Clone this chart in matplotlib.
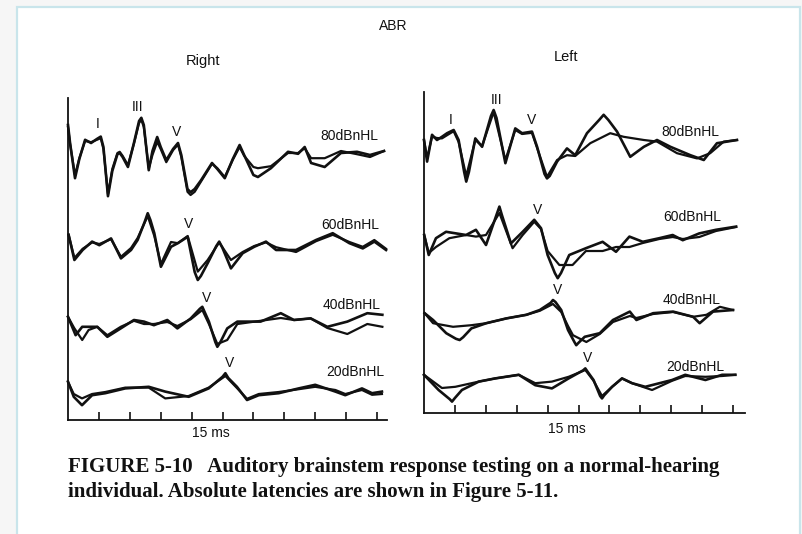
import numpy as np
import matplotlib.pyplot as plt
from matplotlib.patches import Rectangle

# ---- data: vertices, time in ms, amplitude in uV ----
levels = ["80dBnHL", "60dBnHL", "40dBnHL", "20dBnHL"]

# Right ear
r80a_t = [0, 0.1, 0.34, 0.55, 0.83, 1.12, 1.40, 1.59, 1.72, 1.94, 2.15, 2.40, 2.51, 2.65, 2.91, 3.20, 3.45,
          3.56, 3.68, 3.92, 4.10, 4.33, 4.50, 4.77, 5.10, 5.34, 5.50, 5.80, 5.95, 6.15, 6.46, 6.99, 7.25,
          7.61, 8.0, 8.33, 8.55, 9.0, 9.22, 9.85, 10.68, 11.17, 11.49, 11.80, 12.46, 13.25, 14.03, 14.66, 15.34]
r80a_v = [0.75, 0.3, -0.58, -0.1, 0.38, 0.30, 0.40, 0.46, 0.2, -1.03, -0.4, 0.02, 0.05, -0.05, -0.30, 0.3, 0.85,
          0.93, 0.75, -0.38, 0.1, 0.45, 0.2, -0.13, 0.15, 0.30, 0.0, -0.85, -0.93, -0.85, -0.63, -0.20, -0.35,
          -0.58, -0.1, 0.25, 0.0, -0.5, -0.55, -0.33, 0.08, 0.03, 0.20, -0.20, -0.30, 0.05, 0.08, 0.0, 0.10]
r80b_t = r80a_t
r80b_v = [0.7, 0.28, -0.5, -0.08, 0.35, 0.32, 0.38, 0.42, 0.15, -0.98, -0.35, 0.05, 0.08, -0.02, -0.25, 0.28, 0.8,
          0.88, 0.7, -0.33, 0.0, 0.33, 0.15, -0.18, 0.12, 0.26, -0.05, -0.92, -1.0, -0.92, -0.66, -0.22, -0.33,
          -0.55, -0.12, 0.20, -0.02, -0.3, -0.33, -0.28, 0.05, 0.05, 0.17, -0.08, -0.08, 0.10, 0.02, -0.05, 0.10]

r60a_t = [0.03, 0.31, 0.71, 1.17, 1.52, 2.09, 2.57, 3.06, 3.38, 3.72, 3.87, 4.0, 4.19, 4.51, 5.0, 5.33, 5.81,
          6.15, 6.30, 6.45, 6.78, 7.2, 7.34, 7.5, 7.91, 8.48, 9.04, 9.61, 10.10, 11.07, 12.04, 12.85, 13.66,
          14.31, 14.87, 15.44]
r60a_v = [0.13, -0.50, -0.25, -0.04, -0.13, 0.04, -0.46, -0.25, 0.0, 0.45, 0.67, 0.5, 0.17, -0.67, -0.17, -0.08, 0.08,
          -0.8, -1.0, -0.9, -0.58, -0.15, -0.04, -0.2, -0.71, -0.33, -0.17, -0.04, -0.25, -0.25, 0.0, 0.17, -0.08,
          -0.21, -0.04, -0.25]
r60b_t = [0.03, 0.31, 0.71, 1.17, 1.52, 2.09, 2.57, 3.06, 3.38, 3.87, 4.19, 4.51, 5.0, 5.33, 5.81,
          6.30, 6.78, 7.34, 7.91, 8.48, 9.04, 9.61, 10.10, 11.07, 12.04, 12.85, 13.66, 14.31, 14.87, 15.44]
r60b_v = [0.13, -0.45, -0.22, -0.06, -0.10, 0.02, -0.42, -0.20, 0.05, 0.60, 0.10, -0.60, -0.05, -0.08, 0.10,
          -0.79, -0.50, -0.06, -0.50, -0.30, -0.15, -0.06, -0.18, -0.30, -0.03, 0.13, -0.05, -0.17, 0.0, -0.22]

r40a_t = [0, 0.37, 0.69, 1.42, 1.91, 2.56, 3.20, 3.69, 4.17, 4.82, 5.31, 5.96, 6.40, 6.52, 6.84, 7.15, 7.25,
          7.40, 7.73, 8.22, 9.35, 10.33, 10.97, 11.78, 12.59, 13.56, 14.53, 15.26]
r40a_v = [0.08, -0.38, -0.17, -0.17, -0.42, -0.21, 0.0, -0.04, -0.13, 0.0, -0.21, 0.04, 0.28, 0.33, -0.04, -0.55, -0.67,
          -0.55, -0.21, -0.04, -0.04, 0.17, 0.0, 0.04, -0.17, -0.04, 0.17, 0.13]
r40b_t = [0, 0.30, 0.69, 1.0, 1.42, 1.91, 2.56, 3.20, 3.69, 4.17, 4.82, 5.31, 5.96, 6.52, 6.84,
          7.25, 7.73, 8.22, 9.35, 10.33, 10.97, 11.78, 12.59, 13.56, 14.53, 15.26]
r40b_v = [0.08, -0.20, -0.50, -0.25, -0.17, -0.38, -0.17, -0.02, -0.10, -0.10, -0.05, -0.15, 0.02, 0.25, -0.10,
          -0.60, -0.50, -0.10, -0.02, 0.05, 0.0, 0.04, -0.20, -0.35, -0.10, -0.17]

r20a_t = [0, 0.28, 0.68, 1.17, 1.81, 2.78, 3.92, 4.72, 5.86, 6.83, 7.50, 7.64, 7.78, 8.20, 8.69, 9.26, 10.23,
          11.20, 12.0, 12.98, 13.46, 14.27, 14.76, 15.24]
r20a_v = [0.21, -0.17, -0.38, -0.13, -0.08, 0.04, 0.08, -0.04, -0.17, 0.04, 0.33, 0.42, 0.3, 0.08, -0.25, -0.13, -0.08,
          0.04, 0.13, -0.04, -0.13, 0.04, -0.08, -0.04]
r20b_t = [0, 0.28, 0.68, 1.17, 1.81, 2.78, 3.92, 4.72, 5.86, 6.83, 7.64, 8.20, 8.69, 9.26, 10.23,
          11.20, 12.0, 12.98, 13.46, 14.27, 14.76, 15.24]
r20b_v = [0.20, -0.10, -0.21, -0.10, -0.05, 0.06, 0.06, -0.21, -0.15, 0.06, 0.35, 0.05, -0.22, -0.10, -0.05,
          0.02, 0.08, 0.0, -0.10, 0.0, -0.12, -0.10]

# Left ear
l80a_t = [0, 0.15, 0.39, 0.63, 0.87, 1.12, 1.44, 1.68, 1.95, 2.05, 2.18, 2.49, 2.82, 3.25, 3.38, 3.52, 3.95, 4.43,
          4.76, 5.24, 5.49, 5.85, 5.97, 6.10, 6.46, 6.94, 7.34, 7.91, 8.50, 8.72, 8.95, 9.37, 10.01, 10.67, 11.31,
          11.96, 12.93, 13.58, 14.22, 15.19]
l80a_v = [0, -0.54, 0.13, 0.0, 0.08, 0.17, 0.25, 0.0, -0.8, -1.04, -0.8, 0.04, -0.17, 0.6, 0.75, 0.55, -0.58, 0.29,
          0.17, 0.21, -0.17, -0.85, -0.96, -0.9, -0.54, -0.21, -0.38, 0.17, 0.5, 0.63, 0.5, 0.21, -0.42, -0.17, 0.0,
          -0.17, -0.38, -0.50, -0.08, 0.0]
l80b_t = [0, 0.15, 0.39, 0.63, 0.87, 1.12, 1.44, 1.68, 2.05, 2.49, 2.82, 3.38, 3.95, 4.43, 4.76, 5.24,
          5.49, 5.97, 6.46, 6.94, 7.34, 8.07, 9.04, 9.69, 10.67, 11.31, 12.28, 13.25, 13.89, 14.55, 15.19]
l80b_v = [0, -0.45, 0.08, 0.05, 0.04, 0.12, 0.22, -0.05, -0.90, 0.0, -0.15, 0.70, -0.50, 0.25, 0.15, 0.18,
          -0.20, -0.92, -0.50, -0.38, -0.40, -0.08, 0.17, 0.08, 0.0, -0.04, -0.33, -0.46, -0.33, -0.04, 0.0]

l60a_t = [0.01, 0.23, 0.58, 1.07, 2.04, 2.52, 3.01, 3.55, 3.66, 3.78, 4.22, 4.79, 5.35, 5.68, 6.0, 6.35, 6.49,
          6.65, 7.05, 7.86, 8.67, 9.32, 9.97, 10.62, 11.42, 12.07, 12.56, 13.36, 14.17, 15.15]
l60a_v = [0, -0.50, -0.08, 0.08, 0.0, 0.13, -0.25, 0.55, 0.71, 0.5, -0.21, 0.08, 0.38, 0.17, -0.50, -0.95, -1.08,
          -0.95, -0.50, -0.33, -0.17, -0.42, -0.04, -0.17, -0.08, 0.0, -0.13, 0.04, 0.13, 0.21]
l60b_t = [0.01, 0.23, 0.58, 1.23, 2.04, 2.52, 3.01, 3.66, 4.30, 4.79, 5.35, 5.68, 6.0, 6.57, 7.21,
          7.86, 8.67, 9.32, 9.97, 10.62, 11.42, 12.07, 12.56, 13.36, 14.17, 15.15]
l60b_v = [0, -0.45, -0.30, -0.08, 0.0, -0.04, 0.0, 0.55, -0.33, 0.0, 0.33, 0.15, -0.40, -0.75, -0.75,
          -0.40, -0.40, -0.30, -0.30, -0.20, -0.10, -0.05, -0.10, -0.05, 0.10, 0.20]

l40a_t = [0.03, 0.44, 1.08, 1.55, 1.73, 1.90, 2.30, 3.02, 4.0, 4.97, 5.62, 6.15, 6.26, 6.38, 6.66, 6.99, 7.30,
          7.39, 7.50, 7.80, 8.53, 9.17, 9.99, 10.31, 11.12, 12.09, 13.06, 13.38, 14.03, 15.0]
l40a_v = [0.22, 0.05, -0.28, -0.42, -0.45, -0.38, -0.16, -0.03, 0.09, 0.18, 0.30, 0.48, 0.55, 0.5, 0.30, -0.20, -0.5,
          -0.58, -0.52, -0.37, -0.28, 0.05, 0.26, 0.05, 0.22, 0.26, 0.13, -0.03, 0.26, 0.30]
l40b_t = [0.03, 0.44, 1.41, 2.30, 3.02, 4.0, 4.97, 5.62, 6.26, 6.66, 6.99, 7.23, 7.88, 8.53,
          9.17, 9.99, 10.31, 11.12, 12.09, 13.06, 13.71, 14.36, 15.0]
l40b_v = [0.22, -0.03, -0.12, -0.08, -0.03, 0.09, 0.18, 0.28, 0.45, 0.25, -0.10, -0.33, -0.50, -0.30,
          0.0, 0.15, 0.10, 0.20, 0.25, 0.13, 0.18, 0.38, 0.30]

l20a_t = [0, 0.71, 1.25, 1.36, 1.50, 1.84, 2.66, 3.46, 4.60, 5.40, 6.21, 7.02, 7.72, 7.83, 7.95, 8.23, 8.55, 8.64,
          8.75, 9.13, 9.61, 10.10, 10.74, 12.04, 12.68, 13.66, 14.47, 15.11]
l20a_v = [0.13, -0.25, -0.48, -0.54, -0.45, -0.25, -0.04, 0.04, 0.13, -0.13, -0.21, 0.04, 0.24, 0.29, 0.2, 0.0, -0.4,
          -0.46, -0.38, -0.17, 0.04, -0.08, -0.17, 0.0, 0.13, 0.0, 0.13, 0.13]
l20b_t = [0, 0.87, 1.52, 2.66, 3.46, 4.60, 5.40, 6.21, 7.02, 7.83, 8.23, 8.64, 9.13, 9.61,
          10.10, 11.07, 12.04, 12.68, 13.66, 14.47, 15.11]
l20b_v = [0.13, -0.20, -0.17, -0.04, 0.04, 0.13, -0.08, -0.04, 0.08, 0.25, -0.02, -0.40, -0.17, 0.04,
          -0.08, -0.25, -0.02, 0.10, 0.08, 0.10, 0.13]

tick_ms = [1.5, 3.0, 4.5, 6.0, 7.5, 9.0, 10.5, 12.0, 13.5, 15.0]

# ---- figure ----
W, H = 802, 534
fig = plt.figure(figsize=(W / 100, H / 100), dpi=100, facecolor="#f6f6f6")
fig.patches.append(Rectangle((17 / W, -0.05), 783 / W, 1.05 - 7 / H, transform=fig.transFigure,
                             facecolor="white", edgecolor="#c9e5eb", linewidth=1.6, zorder=-10))

sans = "Liberation Sans"
ink = "#111111"


def panel(rect, xmax, ymax, traces, offsets, label_pos, marks, ms_pos):
    ax = fig.add_axes(rect)
    ax.set_facecolor("none")
    ax.set_xlim(0, xmax)
    ax.set_ylim(0, ymax)
    for s in ["top", "right"]:
        ax.spines[s].set_visible(False)
    for s in ["left", "bottom"]:
        ax.spines[s].set_linewidth(1.3)
        ax.spines[s].set_color(ink)
    ax.set_xticks(tick_ms)
    ax.set_yticks([])
    ax.tick_params(axis="x", direction="in", length=6, width=1.2, color=ink, labelbottom=False)
    for (ta, va, tb, vb), off in zip(traces, offsets):
        ax.plot(tb, np.array(vb) + off, color=ink, lw=1.6, solid_joinstyle="round", clip_on=False)
        ax.plot(ta, np.array(va) + off, color=ink, lw=1.9, solid_joinstyle="round", clip_on=False)
    for name, (x, y) in zip(levels, label_pos):
        ax.text(x, y, name, ha="center", va="center", fontsize=10, family=sans, color=ink)
    for txt, x, y in marks:
        ax.text(x, y, txt, ha="center", va="center", fontsize=10, family=sans, color=ink)
    ax.text(ms_pos[0], ms_pos[1], "15 ms", ha="center", va="center", fontsize=10,
            family=sans, color=ink, clip_on=False)
    return ax


right_traces = [(r80a_t, r80a_v, r80b_t, r80b_v), (r60a_t, r60a_v, r60b_t, r60b_v),
                (r40a_t, r40a_v, r40b_t, r40b_v), (r20a_t, r20a_v, r20b_t, r20b_v)]
left_traces = [(l80a_t, l80a_v, l80b_t, l80b_v), (l60a_t, l60a_v, l60b_t, l60b_v),
               (l40a_t, l40a_v, l40b_t, l40b_v), (l20a_t, l20a_v, l20b_t, l20b_v)]

panel([68 / W, 114 / H, 319.3 / W, 322 / H], 15.5, 8.05, right_traces,
      [6.625, 4.5, 2.5, 0.75],
      [(13.64, 7.1), (13.69, 4.88), (13.79, 2.88), (13.93, 1.2)],
      [("I", 1.46, 7.4), ("III", 3.4, 7.83), ("V", 5.29, 7.2), ("V", 5.83, 4.9),
       ("V", 6.75, 3.05), ("V", 7.82, 1.43)],
      (6.94, -0.33))

panel([424 / W, 121 / H, 321.4 / W, 321 / H], 15.6, 8.025, left_traces,
      [6.825, 4.45, 2.275, 0.825],
      [(12.91, 7.03), (13.0, 4.9), (13.0, 2.83), (13.16, 1.15)],
      [("I", 1.31, 7.33), ("III", 3.54, 7.83), ("V", 5.24, 7.33), ("V", 5.49, 5.08),
       ("V", 6.46, 3.08), ("V", 7.96, 1.38)],
      (6.94, -0.4))

fig.text(393 / W, 1 - 26 / H, "ABR", ha="center", va="center", fontsize=10, family=sans, color=ink)
fig.text(203 / W, 1 - 61 / H, "Right", ha="center", va="center", fontsize=10.5, family=sans, color=ink)
fig.text(566 / W, 1 - 57 / H, "Left", ha="center", va="center", fontsize=10.5, family=sans, color=ink)

cap = dict(ha="left", va="center", fontsize=15, family="Liberation Serif", weight="bold", color=ink)
fig.text(68 / W, 1 - 467 / H, "FIGURE 5-10   Auditory brainstem response testing on a normal-hearing", **cap)
fig.text(68 / W, 1 - 492 / H, "individual. Absolute latencies are shown in Figure 5-11.", **cap)

fig.savefig("out.png", dpi=100, facecolor=fig.get_facecolor())
